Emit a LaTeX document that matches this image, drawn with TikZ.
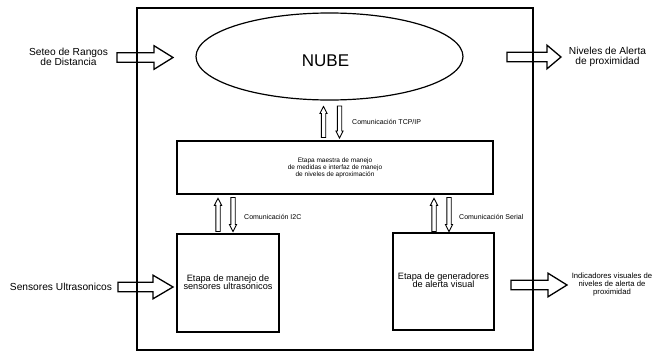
\documentclass[tikz,border=0pt]{standalone}
\usepackage{fontspec}
\setmainfont{Liberation Sans}
\usetikzlibrary{shapes.geometric,calc}

\tikzset{
  box/.style={draw, line width=1.2pt, inner sep=0pt},
  bigarr/.style={draw, line width=1.3pt, line join=miter},
  thinarr/.style={draw, line width=0.9pt, line join=miter},
  lbl/.style={font=\fontsize{7}{8}\selectfont, anchor=west, inner sep=0pt},
  ext/.style={font=\fontsize{10.2}{10.5}\selectfont, align=center, inner sep=0pt},
  stagetext/.style={font=\fontsize{9.2}{10}\selectfont, align=center},
}

% block arrow pointing right: tail coordinate, tip coordinate, head length
\newcommand\bigarrow[3]{%
  \draw[bigarr] let \p1=(#1), \p2=(#2) in
    (\x1,\y1+4.7pt) -- (\x2-#3pt,\y1+4.7pt) -- (\x2-#3pt,\y1+11.8pt) --
    (\x2,\y1) -- (\x2-#3pt,\y1-11.8pt) -- (\x2-#3pt,\y1-4.7pt) --
    (\x1,\y1-4.7pt) -- cycle;}
% hollow thin arrow pointing up: start (bottom), tip (top)
\newcommand\hup[2]{%
  \draw[thinarr] let \p1=(#1), \p2=(#2) in
    (\x1-2.2pt,\y1) -- (\x1-2.2pt,\y2-7pt) -- (\x1-3.6pt,\y2-7pt) --
    (\x1,\y2) -- (\x1+3.6pt,\y2-7pt) -- (\x1+2.2pt,\y2-7pt) --
    (\x1+2.2pt,\y1) -- cycle;}
% hollow thin arrow pointing down: start (top), tip (bottom)
\newcommand\hdown[2]{%
  \draw[thinarr] let \p1=(#1), \p2=(#2) in
    (\x1-2.2pt,\y1) -- (\x1-2.2pt,\y2+7pt) -- (\x1-3.6pt,\y2+7pt) --
    (\x1,\y2) -- (\x1+3.6pt,\y2+7pt) -- (\x1+2.2pt,\y2+7pt) --
    (\x1+2.2pt,\y1) -- cycle;}

\begin{document}
\begin{tikzpicture}[x=1pt, y=-1pt]
\useasboundingbox (0,0) rectangle (657,351);

% outer system box
\node[box, minimum width=396pt, minimum height=342pt] (sys) at (335,179) {};

% cloud
\node[box, ellipse, minimum width=267pt, minimum height=87pt] (nube) at (329.5,56.5) {};
\node[font=\fontsize{17}{17}\selectfont, inner sep=0pt] (nubetxt) at (325.5,61) {NUBE};

% master stage
\node[box, minimum width=316pt, minimum height=53pt, font=\fontsize{6.5}{7}\selectfont, align=center]
  (master) at (335,167.5) {Etapa maestra de manejo\\de medidas e interfaz de manejo\\de niveles de aproximación};

% sensor stage
\node[box, stagetext, minimum width=102pt, minimum height=98pt] (sens) at (228,283)
  {\raisebox{-2pt}{\begin{tabular}{@{}c@{}}Etapa de manejo de\\[-2pt]sensores ultrasonicos\end{tabular}}};

% visual alert stage
\node[box, stagetext, minimum width=101pt, minimum height=97pt] (gen) at (443.5,281.5)
  {\raisebox{-3pt}{\begin{tabular}{@{}c@{}}Etapa de generadores\\[-2pt]de alerta visual\end{tabular}}};

% TCP/IP link
\coordinate (tcpub) at (323.5,137.5); \coordinate (tcput) at (323.5,106.5);
\coordinate (tcpdt) at (339.5,106);   \coordinate (tcpdb) at (339.5,138);
\hup{tcpub}{tcput}
\hdown{tcpdt}{tcpdb}
\node[lbl] (tcplbl) at (352,122) {Comunicación TCP/IP};

% I2C link
\coordinate (i2cub) at (218,231.5); \coordinate (i2cut) at (218,198.3);
\coordinate (i2cdt) at (233,197.5); \coordinate (i2cdb) at (233,231.5);
\hup{i2cub}{i2cut}
\hdown{i2cdt}{i2cdb}
\node[lbl] (i2clbl) at (244,217) {Comunicación I2C};

% Serial link
\coordinate (serub) at (434,231.5); \coordinate (serut) at (434,198.3);
\coordinate (serdt) at (449,197.5); \coordinate (serdb) at (449,231.5);
\hup{serub}{serut}
\hdown{serdt}{serdb}
\node[lbl] (serlbl) at (459,217) {Comunicación Serial};

% external inputs / outputs
\node[ext] (seteo) at (68.5,57) {Seteo de Rangos\\de Distancia};
\coordinate (a1t) at (117,57.5); \coordinate (a1h) at (173,57.5);
\bigarrow{a1t}{a1h}{19}

\node[ext] (niveles) at (607.5,57) {Niveles de Alerta\\de proximidad};
\coordinate (a2t) at (507,57); \coordinate (a2h) at (561,57);
\bigarrow{a2t}{a2h}{14}

\node[ext, anchor=center] (sensores) at (61,287) {Sensores Ultrasonicos};
\coordinate (a3t) at (118,287); \coordinate (a3h) at (173,287);
\bigarrow{a3t}{a3h}{20}

\node[ext, font=\fontsize{7.7}{8.4}\selectfont] (indic) at (612,284.5)
  {Indicadores visuales de\\niveles de alerta de\\proximidad};
\coordinate (a4t) at (511,285); \coordinate (a4h) at (567,285);
\bigarrow{a4t}{a4h}{19}
\end{tikzpicture}
\end{document}
